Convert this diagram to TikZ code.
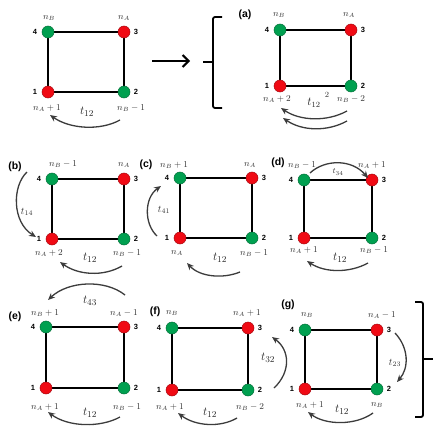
\documentclass[tikz,border=0pt]{standalone}
\usepackage{fontspec}
\newfontfamily\labfont{Liberation Sans}
\usetikzlibrary{arrows.meta,calc}
\definecolor{dotred}{RGB}{240,10,20}
\definecolor{dotgreen}{RGB}{0,160,80}
\definecolor{arrgray}{RGB}{60,60,60}
\tikzset{
  rdot/.style={circle,fill=dotred,draw=dotred!70!black,line width=0.5pt,minimum size=12pt,inner sep=0pt},
  gdot/.style={circle,fill=dotgreen,draw=dotgreen!70!black,line width=0.5pt,minimum size=12pt,inner sep=0pt},
  sqedge/.style={line width=1.8pt,black},
  num/.style={font=\labfont\bfseries\fontsize{7.5}{8}\selectfont,inner sep=0pt},
  plab/.style={font=\labfont\bfseries\fontsize{10.5}{12}\selectfont,inner sep=0pt},
  nlab/.style={font=\fontsize{9}{10}\selectfont,inner sep=0pt,text=black!80},
  tlab/.style={font=\fontsize{13}{14}\selectfont,inner sep=0pt,text=black!85},
  harr/.style={-{Stealth[length=7pt,width=6pt]},line width=1.3pt,arrgray},
  brace/.style={line width=1.8pt,black,rounded corners=2pt},
}
% #1 prefix, #2 left x, #3 top y, #4 right x, #5 bottom y
\newcommand\mysquare[5]{%
  \coordinate (#1c1) at (#2,#5);
  \coordinate (#1c2) at (#4,#5);
  \coordinate (#1c3) at (#4,#3);
  \coordinate (#1c4) at (#2,#3);
  \draw[sqedge] (#1c1) -- (#1c2) -- (#1c3) -- (#1c4) -- cycle;
  \node[rdot] (#1n1) at (#1c1) {};
  \node[gdot] (#1n2) at (#1c2) {};
  \node[rdot] (#1n3) at (#1c3) {};
  \node[gdot] (#1n4) at (#1c4) {};
  \node[num] (#1l1) at ([xshift=-13pt]#1c1) {1};
  \node[num] (#1l2) at ([xshift=12pt]#1c2) {2};
  \node[num] (#1l3) at ([xshift=12pt]#1c3) {3};
  \node[num] (#1l4) at ([xshift=-13pt]#1c4) {4};
}
\begin{document}
\begin{tikzpicture}[x=1pt,y=-1pt]
\useasboundingbox (0,0) rectangle (436,436);
\fill[white] (0,0) rectangle (436,436);

% ---------- initial panel ----------
\mysquare{p0}{48}{32}{124}{92}
\node[nlab] (p0tb) at (49,18) {$n_B$};
\node[nlab] (p0ta) at (124,18) {$n_A$};
\node[nlab,anchor=west] (p0ba) at (33,108) {$n_A+1$};
\node[tlab] (p0t) at (87,112) {$t_{12}$};
\node[nlab,anchor=west] (p0bb) at (117,108) {$n_B-1$};
\coordinate (p0s) at (120,120); \coordinate (p0e) at (50,115);
\draw[harr] (p0s) .. controls (100,131) and (70,129) .. (p0e);

% big arrow and left brace
\coordinate (ars) at (152,61); \coordinate (are) at (190,61);
\draw[line width=2pt,-{Straight Barb[length=6pt,width=12pt]}] (ars) -- (are);
\draw[brace] (222,17) -- (213,17) -- (213,108) -- (222,108);
\draw[brace] (213,62) -- (203,62);

% ---------- (a) ----------
\node[plab] (pal) at (245,15) {(a)};
\mysquare{pa}{280}{30}{351}{86}
\node[nlab] (patb) at (279,15) {$n_B$};
\node[nlab] (pata) at (349,15) {$n_A$};
\node[nlab,anchor=west] (paba) at (263,99) {$n_A+2$};
\node[tlab,font=\fontsize{12}{13}\selectfont] (pat) at (314,103) {$t_{12}$};
\node[nlab,font=\fontsize{8}{9}\selectfont] (pasq) at (327,95) {$2$};
\node[nlab,anchor=west] (pabb) at (337,99) {$n_B-2$};
\coordinate (pas1) at (347,111); \coordinate (pae1) at (281,108);
\coordinate (pas2) at (347,121); \coordinate (pae2) at (283,118);
\draw[harr] (pas1) .. controls (327,122) and (300,121) .. (pae1);
\draw[harr] (pas2) .. controls (327,132) and (302,131) .. (pae2);

% ---------- (b) ----------
\node[plab] (pbl) at (15,167) {(b)};
\mysquare{pb}{52}{179}{124}{239}
\node[nlab,anchor=west] (pbtb) at (49,164) {$n_B-1$};
\node[nlab] (pbta) at (124,165) {$n_A$};
\node[nlab,anchor=west] (pbba) at (35,253) {$n_A+2$};
\node[tlab] (pbt) at (90,258) {$t_{12}$};
\node[nlab,anchor=west] (pbbb) at (113,253) {$n_B-1$};
\coordinate (pbs) at (122,266); \coordinate (pbe) at (60,262);
\draw[harr] (pbs) .. controls (103,277) and (78,275) .. (pbe);
\coordinate (pbs2) at (27,172); \coordinate (pbe2) at (36,237);
\draw[harr] (pbs2) .. controls (12,186) and (12,222) .. (pbe2);
\node[nlab,font=\fontsize{10}{11}\selectfont] (pbt2) at (27,212) {$t_{14}$};

% ---------- (c) ----------
\node[plab] (pcl) at (146,165) {(c)};
\mysquare{pc}{180}{178}{252}{238}
\node[nlab,anchor=west] (pctb) at (160,165) {$n_B+1$};
\node[nlab] (pcta) at (250,165) {$n_A$};
\node[nlab] (pcba) at (177,253) {$n_A$};
\node[tlab] (pct) at (220,258) {$t_{12}$};
\node[nlab,anchor=west] (pcbb) at (240,253) {$n_B-1$};
\coordinate (pcs) at (240,272); \coordinate (pce) at (187,263);
\draw[harr] (pcs) .. controls (223,279) and (200,277) .. (pce);
\coordinate (pcs2) at (157,236); \coordinate (pce2) at (161,186);
\draw[harr] (pcs2) .. controls (144,224) and (144,198) .. (pce2);
\node[nlab,font=\fontsize{10}{11}\selectfont] (pct2) at (164,210) {$t_{41}$};

% ---------- (d) ----------
\node[plab] (pdl) at (278,163) {(d)};
\mysquare{pd}{304}{180}{372}{238}
\node[nlab,anchor=west] (pdtb) at (288,165) {$n_B-1$};
\node[nlab,anchor=west] (pdta) at (358,165) {$n_A+1$};
\coordinate (pds2) at (310,173); \coordinate (pde2) at (368,178);
\draw[harr] (pds2) .. controls (325,159) and (352,159) .. (pde2);
\node[nlab,font=\fontsize{8}{9}\selectfont] (pdt2) at (338,172) {$t_{34}$};
\node[nlab,anchor=west] (pdba) at (290,250) {$n_A+1$};
\node[tlab] (pdt) at (340,258) {$t_{12}$};
\node[nlab,anchor=west] (pdbb) at (360,250) {$n_B-1$};
\coordinate (pds) at (368,263); \coordinate (pde) at (307,261);
\draw[harr] (pds) .. controls (350,273) and (325,273) .. (pde);

% ---------- (e) ----------
\node[plab] (pel) at (15,317) {(e)};
\mysquare{pe}{46}{327}{124}{388}
\node[nlab,anchor=west] (petb) at (31,313) {$n_B+1$};
\node[nlab,anchor=west] (peta) at (110,313) {$n_A-1$};
\coordinate (pes2) at (125,295); \coordinate (pee2) at (48,300);
\draw[harr] (pes2) .. controls (105,279) and (68,281) .. (pee2);
\node[tlab] (pet2) at (90,301) {$t_{43}$};
\node[nlab,anchor=west] (peba) at (31,407) {$n_A+1$};
\node[tlab] (pet) at (90,413) {$t_{12}$};
\node[nlab,anchor=west] (pebb) at (113,407) {$n_B-1$};
\coordinate (pes) at (120,417); \coordinate (pee) at (48,412);
\draw[harr] (pes) .. controls (100,428) and (68,427) .. (pee);

% ---------- (f) ----------
\node[plab] (pfl) at (155,312) {(f)};
\mysquare{pf}{172}{328}{248}{390}
\node[nlab] (pftb) at (172,313) {$n_B$};
\node[nlab,anchor=west] (pfta) at (233,313) {$n_A+1$};
\node[nlab,anchor=west] (pfba) at (156,407) {$n_A+1$};
\node[tlab] (pft) at (210,413) {$t_{12}$};
\node[nlab,anchor=west] (pfbb) at (236,407) {$n_B-2$};
\coordinate (pfs) at (237,418); \coordinate (pfe) at (178,413);
\draw[harr] (pfs) .. controls (220,428) and (195,426) .. (pfe);
\coordinate (pfs2) at (274,388); \coordinate (pfe2) at (272,337);
\draw[harr] (pfs2) .. controls (291,372) and (290,350) .. (pfe2);
\node[tlab] (pft2) at (268,358) {$t_{32}$};

% ---------- (g) ----------
\node[plab] (pgl) at (288,305) {(g)};
\mysquare{pg}{305}{330}{377}{389}
\node[nlab] (pgtb) at (307,315) {$n_B$};
\node[nlab,anchor=west] (pgta) at (368,315) {$n_A-1$};
\node[nlab,anchor=west] (pgba) at (296,405) {$n_A+1$};
\node[tlab] (pgt) at (342,410) {$t_{12}$};
\node[nlab] (pgbb) at (377,405) {$n_B$};
\coordinate (pgs) at (373,413); \coordinate (pge) at (308,412);
\draw[harr] (pgs) .. controls (355,426) and (325,425) .. (pge);
\coordinate (pgs2) at (395,333); \coordinate (pge2) at (397,382);
\draw[harr] (pgs2) .. controls (409,348) and (409,368) .. (pge2);
\node[nlab,font=\fontsize{10}{11}\selectfont] (pgt2) at (395,363) {$t_{23}$};

% right brace
\draw[brace] (415,302) -- (423,302) -- (423,417) -- (415,417);
\draw[brace] (423,359) -- (433,359);
\end{tikzpicture}
\end{document}
